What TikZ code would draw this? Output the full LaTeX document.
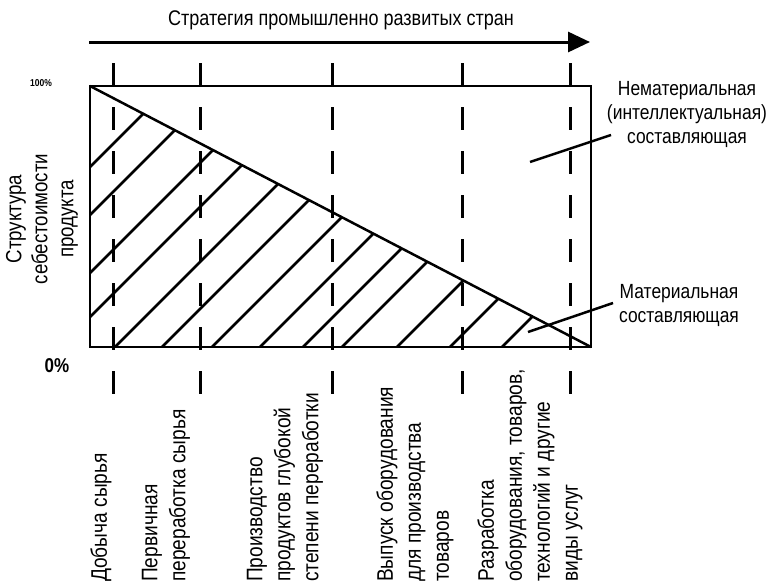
\documentclass[tikz,border=0pt]{standalone}
\usepackage{fontspec}
\setmainfont{Liberation Sans}[FakeStretch=0.85]
\usetikzlibrary{arrows.meta,positioning,calc}
\tikzset{
  >={Triangle[length=22pt,width=20pt]},
  frame/.style = {line width=2.5pt, line join=miter},
  hatch/.style = {line width=2.5pt},
  stage/.style = {line width=3pt, dash pattern=on 23pt off 21pt},
  leader/.style = {line width=2.5pt},
  strategy/.style = {line width=3pt, ->},
  title/.style = {font=\fontsize{21.2}{24}\selectfont, inner sep=0pt},
  axislabel/.style = {font=\fontsize{22}{26}\selectfont, align=center, inner sep=0pt, rotate=90},
  partlabel/.style = {font=\fontsize{20.5}{24}\selectfont, align=center, inner sep=0pt, anchor=north},
  stagelabel/.style = {font=\fontsize{22.5}{28}\selectfont, align=left, inner sep=0pt, rotate=90, anchor=west},
  percent/.style = {font=\bfseries\fontsize{20}{24}\selectfont, inner sep=0pt},
}
\def\xLeft{90}
\def\xRight{591}
\def\yTop{86}
\def\yBot{347}

\begin{document}
\begin{tikzpicture}[x=1pt,y=-1pt]
  \useasboundingbox (0,0) rectangle (773,584);

  % ----------------------------------------------------------------------
  % Strategy arrow
  % ----------------------------------------------------------------------
  \node[title] (strategyTitle) at (341,20) {Стратегия промышленно развитых стран};
  \coordinate (arrowStart) at (89,42);
  \coordinate (arrowEnd) at (590,42);
  \draw[strategy] (arrowStart) -- (arrowEnd);

  % ----------------------------------------------------------------------
  % Cost structure: hatched material part under the diagonal
  % ----------------------------------------------------------------------
  \begin{scope}
    \clip (\xLeft,\yTop) -- (\xLeft,\yBot) -- (\xRight,\yBot) -- cycle;
    \foreach \c in {257,305,363,407,462,509,559,607,650,689,744,797,849} {
      \draw[hatch] ({\c-400},400) -- (\c,0);
    }
  \end{scope}
  \draw[frame] (\xLeft,\yTop) rectangle (\xRight,\yBot);
  \draw[frame] (\xLeft,\yTop) -- (\xRight,\yBot);

  % stage borders
  \foreach \x in {113,200,332,462,570} {
    \draw[stage] (\x,63) -- (\x,395);
  }

  % ----------------------------------------------------------------------
  % Axis labels
  % ----------------------------------------------------------------------
  \node[font=\bfseries\fontsize{10}{12}\selectfont, inner sep=0pt] (top) at (41,83) {100\%};
  \node[percent] (bottom) at (57,366) {0\%};
  \node[axislabel] (costLabel) at (42,219) {Структура\\себестоимости\\продукта};

  % ----------------------------------------------------------------------
  % Components
  % ----------------------------------------------------------------------
  \node[partlabel] (nonmaterial) at (687,81) {Нематериальная\\(интеллектуальная)\\составляющая};
  \coordinate (nonmatIn) at (530,162);
  \coordinate (nonmatOut) at (611,135);
  \draw[leader] (nonmatIn) -- (nonmatOut);

  \node[partlabel] (material) at (679,284) {Материальная\\составляющая};
  \coordinate (matIn) at (528,332);
  \coordinate (matOut) at (613,303);
  \draw[leader] (matIn) -- (matOut);

  % ----------------------------------------------------------------------
  % Stages
  % ----------------------------------------------------------------------
  \node[stagelabel] (mining) at (101,582) {Добыча сырья};
  \node[stagelabel] (primary) at (166,582) {Первичная\\переработка сырья};
  \node[stagelabel] (deep) at (285,582) {Производство\\продуктов глубокой\\степени переработки};
  \node[stagelabel] (equipment) at (415,582) {Выпуск оборудования\\для производства\\товаров};
  \node[stagelabel] (services) at (530,582) {Разработка\\оборудования, товаров,\\технологий и другие\\виды услуг};
\end{tikzpicture}
\end{document}
